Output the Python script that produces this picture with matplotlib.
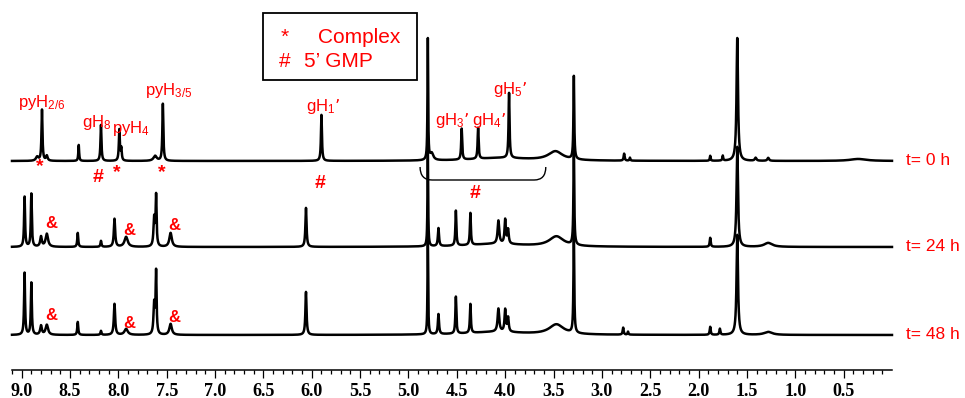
import numpy as np
import matplotlib
matplotlib.use("Agg")
import matplotlib.pyplot as plt
from matplotlib.patches import Rectangle, PathPatch
from matplotlib.path import Path
from matplotlib.ticker import FixedLocator, FormatStrFormatter

plt.rcParams["font.family"] = ["Liberation Sans", "DejaVu Sans"]
plt.rcParams["mathtext.default"] = "regular"

RED = "#ff0000"

# peak lists (shift in ppm, height and HWHM)
shifts_0h = [8.84, 8.79, 8.74, 8.41, 8.18, 7.99, 7.97, 7.62, 7.54, 5.90,
             4.80, 4.76, 4.45, 4.28, 3.96, 4.05, 3.48, 3.29, 2.77, 2.71,
             1.88, 1.75, 1.60, 1.41, 1.28, 0.35]
heights_0h = [4, 51, 5, 16, 36, 31, 12, 5, 57, 46,
              122, 7, 31, 31, 65, 3, 9, 83, 7, 3,
              5, 5, 123, 3, 3, 2]
widths_0h = [0.015, 0.006, 0.01, 0.005, 0.006, 0.006, 0.006, 0.02, 0.006, 0.006,
             0.004, 0.02, 0.006, 0.006, 0.006, 0.35, 0.09, 0.005, 0.006, 0.005,
             0.005, 0.005, 0.009, 0.01, 0.01, 0.1]

shifts_24h = [8.97, 8.90, 8.80, 8.74, 8.42, 8.18, 8.04, 7.92, 7.63, 7.61,
              7.46, 6.06, 4.80, 4.69, 4.51, 4.36, 4.07, 4.00, 3.97, 4.10,
              3.47, 3.29, 1.88, 1.60, 1.28]
heights_24h = [50, 53, 10, 13, 14, 6, 28, 10, 28, 50,
               14, 39, 100, 18, 35, 32, 23, 24, 14, 3,
               10, 100, 9, 100, 4]
widths_24h = [0.006, 0.006, 0.01, 0.015, 0.006, 0.006, 0.008, 0.02, 0.008, 0.006,
              0.015, 0.007, 0.004, 0.007, 0.006, 0.006, 0.01, 0.008, 0.008, 0.35,
              0.09, 0.005, 0.006, 0.009, 0.05]

shifts_48h = [8.97, 8.90, 8.80, 8.74, 8.42, 8.18, 8.04, 7.92, 7.63, 7.61,
              7.46, 6.06, 4.80, 4.69, 4.51, 4.36, 4.07, 4.00, 3.97, 4.10,
              3.47, 3.29, 2.78, 2.73, 1.88, 1.78, 1.60, 1.28]
heights_48h = [62, 52, 9, 10, 13, 4, 31, 6, 30, 62,
               11, 43, 100, 20, 37, 29, 23, 22, 14, 3,
               10, 100, 7, 3, 8, 6, 100, 3]
widths_48h = [0.006, 0.006, 0.01, 0.015, 0.006, 0.006, 0.008, 0.02, 0.008, 0.006,
              0.015, 0.007, 0.004, 0.007, 0.006, 0.006, 0.01, 0.008, 0.008, 0.35,
              0.09, 0.005, 0.006, 0.005, 0.006, 0.006, 0.009, 0.05]

time_labels = ["t= 0 h", "t= 24 h", "t= 48 h"]
tick_ppm = [9.0, 8.5, 8.0, 7.5, 7.0, 6.5, 6.0, 5.5, 5.0, 4.5, 4.0, 3.5, 3.0, 2.5, 2.0, 1.5, 1.0, 0.5]

# peak assignments on the t = 0 h trace: (label, left ppm, baseline px)
assign_text = [r"pyH$_{2/6}$", r"gH$_8$", r"pyH$_4$", r"pyH$_{3/5}$",
               r"gH$_1$’", r"gH$_3$’", r"gH$_4$’", r"gH$_5$’"]
assign_ppm = [9.038, 8.376, 8.066, 7.725, 6.060, 4.726, 4.343, 4.126]
assign_y = [107, 127, 133, 95, 111, 125, 125, 94]

mark_text = ["*", "#", "*", "*", "#", "#"]
mark_ppm = [8.811, 8.206, 8.020, 7.549, 5.910, 4.312]
mark_y = [167, 177, 173, 173, 183.5, 194]

amp_ppm = [8.692, 7.885, 7.420]
amp_y_24 = [223, 230.5, 225]
amp_y_48 = [316, 323, 317]

BASELINES = [161, 247, 335]   # px, y axis runs in image pixels


def lorentz_sum(x, shifts, heights, widths):
    out = np.zeros_like(x)
    for s, h, w in zip(shifts, heights, widths):
        out += h / (1.0 + ((x - s) / w) ** 2)
    return out


fig = plt.figure(figsize=(9.65, 3.98), dpi=100)
ax = fig.add_axes([0, 0, 1, 1])
ax.set_xlim(9.224, -0.755)
ax.set_ylim(398, 0)

ppm = np.linspace(9.10, 0.0, 40000)
spectra = [(shifts_0h, heights_0h, widths_0h),
           (shifts_24h, heights_24h, widths_24h),
           (shifts_48h, heights_48h, widths_48h)]
for (s, h, w), base, lab in zip(spectra, BASELINES, time_labels):
    y = np.maximum(base - lorentz_sum(ppm, s, h, w), 38)
    ax.plot(ppm, y, color="black", lw=1.8)
    ax.text(-0.145, base + 4, lab, color=RED, fontsize=12.5, va="baseline", ha="left")

for t, x, y in zip(assign_text, assign_ppm, assign_y):
    ax.text(x, y, t, color=RED, fontsize=12, va="baseline", ha="left")
for t, x, y in zip(mark_text, mark_ppm, mark_y):
    ax.text(x, y, t, color=RED, fontsize=14, fontweight="bold", va="center", ha="center")
for x, y1, y2 in zip(amp_ppm, amp_y_24, amp_y_48):
    ax.text(x, y1, "&", color=RED, fontsize=12, fontweight="bold", va="center", ha="center")
    ax.text(x, y2, "&", color=RED, fontsize=12, fontweight="bold", va="center", ha="center")

# bracket under the ribose region
verts = [(4.880, 167), (4.880, 180), (4.756, 180), (3.700, 180), (3.580, 180), (3.580, 167)]
codes = [Path.MOVETO, Path.CURVE3, Path.CURVE3, Path.LINETO, Path.CURVE3, Path.CURVE3]
ax.add_patch(PathPatch(Path(verts, codes), fill=False, color="black", lw=1.0))

# legend box
ax.add_patch(Rectangle((6.503, 13), -1.593, 67, fill=False, ec="black", lw=1.3))
ax.text(6.317, 43, "*", color=RED, fontsize=15, va="baseline", ha="left")
ax.text(5.934, 43, "Complex", color=RED, fontsize=15, va="baseline", ha="left")
ax.text(6.338, 67, "#", color=RED, fontsize=15, va="baseline", ha="left")
ax.text(6.079, 67, "5’ GMP", color=RED, fontsize=15, va="baseline", ha="left")

# ppm scale
for side in ["top", "left", "right"]:
    ax.spines[side].set_visible(False)
ax.spines["bottom"].set_position(("data", 370))
ax.spines["bottom"].set_bounds(0.0, 9.1)
ax.spines["bottom"].set_linewidth(1.1)
ax.xaxis.set_major_locator(FixedLocator(tick_ppm))
ax.xaxis.set_minor_locator(FixedLocator(np.round(np.arange(1, 92) * 0.1, 1)))
ax.xaxis.set_major_formatter(FormatStrFormatter("%.1f"))
ax.tick_params(axis="x", which="major", direction="out", length=6, width=0.9, pad=3)
ax.tick_params(axis="x", which="minor", direction="out", length=3, width=0.9)
ax.set_yticks([])
for lbl in ax.get_xticklabels():
    lbl.set_family("Liberation Serif")
    lbl.set_fontweight("bold")
    lbl.set_fontsize(13)

fig.savefig("out.png", dpi=100)
